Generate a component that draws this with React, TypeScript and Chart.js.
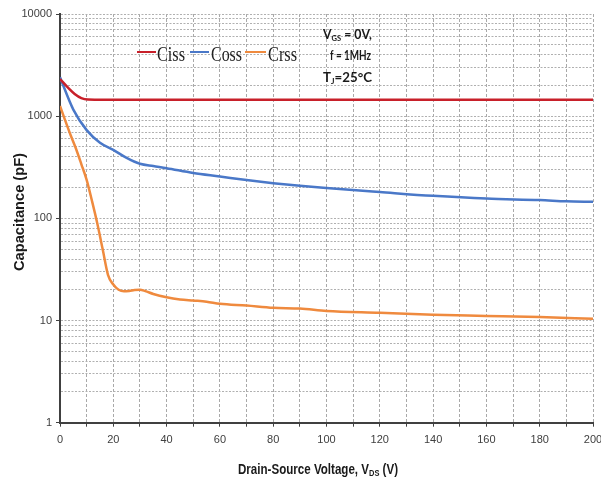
import React, { useEffect, useRef } from 'react';
import { Chart, registerables } from 'chart.js';

Chart.register(...registerables);

// ---- data ----
const cissV = [0, 3, 5.5, 8, 10.5, 13, 20, 40, 100, 200];
const cissC = [2310, 1900, 1650, 1505, 1455, 1450, 1450, 1450, 1450, 1450];

const cossV = [0, 5, 10, 15, 20, 25, 30, 35, 40, 50, 60, 70, 80, 90, 100, 120, 140, 160, 180, 190, 200];
const cossC = [2400, 1160, 730, 550, 468, 390, 342, 325, 310, 278, 257, 237, 221, 208, 198, 181, 166, 156, 151, 147, 145];

const crssV = [0, 2, 4, 6, 8, 10, 12, 14, 16, 18, 20, 22, 24, 26, 28, 30, 32, 35, 40, 45, 50, 55, 60, 70, 80, 90, 100, 120, 140, 160, 180, 200];
const crssC = [1260, 900, 650, 480, 340, 238, 148, 89, 50, 28, 22.5, 20, 19.3, 19.5, 19.9, 20, 19.4, 18.2, 16.9, 16.1, 15.7, 15.3, 14.6, 14.0, 13.3, 13.1, 12.4, 11.9, 11.4, 11.1, 10.8, 10.4];

const seriesNames = ['Ciss', 'Coss', 'Crss'];
const seriesColors = ['#C8202A', '#4A78C8', '#EF8A3E'];

const yDecades = [1, 10, 100, 1000, 10000];
const yMultipliers = [1, 2, 3, 4, 5, 6, 7, 8, 9];
const xMin = 0;
const xMax = 200;
const xStep = 10;
const xLabelStep = 20;

const yTitle = 'Capacitance (pF)';
const xTitleParts = ['Drain-Source Voltage, V', 'DS', ' (V)'];
const noteLines = [
  ['V', 'GS', ' = 0V,'],
  ['f = 1MHz', '', ''],
  ['T', 'J', '=25°C'],
];

const yTickValues: number[] = [];
yDecades.forEach((d) => {
  if (d === 10000) yTickValues.push(d);
  else yMultipliers.forEach((m) => yTickValues.push(d * m));
});

type Part = { t: string; font: string; dy: number };

function drawParts(ctx: CanvasRenderingContext2D, parts: Part[], x: number, y: number, width: number | null, align: 'left' | 'center') {
  let total = 0;
  const widths = parts.map((p) => {
    ctx.font = p.font;
    const w = ctx.measureText(p.t).width;
    total += w;
    return w;
  });
  const sx = width ? width / total : 1;
  ctx.save();
  ctx.translate(align === 'center' ? x - (total * sx) / 2 : x, y);
  ctx.scale(sx, 1);
  let cx = 0;
  parts.forEach((p, i) => {
    ctx.font = p.font;
    ctx.fillText(p.t, cx, p.dy);
    cx += widths[i];
  });
  ctx.restore();
}

const overlay = {
  id: 'overlay',
  afterDraw(chart: any) {
    const ctx: CanvasRenderingContext2D = chart.ctx;
    ctx.save();
    ctx.textBaseline = 'alphabetic';
    ctx.textAlign = 'left';

    // legend
    const legendItems = [
      { x1: 137, x2: 156, tx: 157, tw: 28 },
      { x1: 190, x2: 209, tx: 211, tw: 31 },
      { x1: 245, x2: 266, tx: 268, tw: 29 },
    ];
    legendItems.forEach((it, i) => {
      ctx.strokeStyle = seriesColors[i];
      ctx.lineWidth = 2;
      ctx.beginPath();
      ctx.moveTo(it.x1, 52);
      ctx.lineTo(it.x2, 52);
      ctx.stroke();
      ctx.fillStyle = '#222';
      drawParts(ctx, [{ t: seriesNames[i], font: '21px "Liberation Serif"', dy: 0 }], it.tx, 60.5, it.tw, 'left');
    });

    // note
    ctx.fillStyle = '#1a1a1a';
    const big = 'bold 13px Lato';
    const small = 'bold 8px Lato';
    drawParts(ctx, [
      { t: noteLines[0][0], font: big, dy: 0 },
      { t: noteLines[0][1], font: small, dy: 2 },
      { t: noteLines[0][2], font: big, dy: 0 },
    ], 323, 39, 49, 'left');
    drawParts(ctx, [{ t: noteLines[1][0], font: big, dy: 0 }], 330, 60, 41, 'left');
    drawParts(ctx, [
      { t: noteLines[2][0], font: big, dy: 0 },
      { t: noteLines[2][1], font: small, dy: 2 },
      { t: noteLines[2][2], font: big, dy: 0 },
    ], 323, 82, 49, 'left');

    // axis titles
    ctx.fillStyle = '#1a1a1a';
    const tf = 'bold 14px "Liberation Sans"';
    const tfs = 'bold 9px "Liberation Sans"';
    drawParts(ctx, [
      { t: xTitleParts[0], font: tf, dy: 0 },
      { t: xTitleParts[1], font: tfs, dy: 2 },
      { t: xTitleParts[2], font: tf, dy: 0 },
    ], 318, 474, 160, 'center');

    ctx.save();
    ctx.translate(24, 212);
    ctx.rotate(-Math.PI / 2);
    drawParts(ctx, [{ t: yTitle, font: tf, dy: 0 }], 0, 0, 118, 'center');
    ctx.restore();

    ctx.restore();
  },
};

export default function App() {
  const ref = useRef<HTMLCanvasElement | null>(null);
  useEffect(() => {
    if (!ref.current) return;
    const mk = (xs: number[], ys: number[]) => xs.map((x, i) => ({ x, y: ys[i] }));
    const chart = new Chart(ref.current, {
      type: 'line',
      data: {
        datasets: [
          { label: seriesNames[0], data: mk(cissV, cissC), borderColor: seriesColors[0] },
          { label: seriesNames[1], data: mk(cossV, cossC), borderColor: seriesColors[1] },
          { label: seriesNames[2], data: mk(crssV, crssC), borderColor: seriesColors[2] },
        ].map((d) => ({ ...d, borderWidth: 2.5, pointRadius: 0, cubicInterpolationMode: 'monotone' as const, fill: false })),
      },
      options: {
        animation: false,
        responsive: false,
        layout: { padding: { top: 14, right: 8, left: 0, bottom: 0 } },
        plugins: { legend: { display: false }, tooltip: { enabled: false } },
        scales: {
          x: {
            type: 'linear',
            min: xMin,
            max: xMax,
            afterFit: (s: any) => { s.height = 60.3; s.paddingRight = 0; s.paddingLeft = 0; },
            ticks: {
              stepSize: xStep,
              autoSkip: false,
              maxRotation: 0,
              padding: 7,
              color: '#404040',
              font: { family: '"Liberation Sans"', size: 11 },
              callback: (v: any) => (Number(v) % xLabelStep === 0 ? String(v) : ''),
            },
            grid: {
              color: '#a9a9a9',
              lineWidth: 1,
              drawTicks: true,
              tickLength: 4,
              tickColor: '#404040',
            },
            border: { display: true, color: '#404040', width: 2, dash: [3, 2] },
          },
          y: {
            type: 'logarithmic',
            min: 1,
            max: 10000,
            afterFit: (s: any) => { s.width = 60; s.paddingTop = 0; s.paddingBottom = 0; },
            afterBuildTicks: (s: any) => { s.ticks = yTickValues.map((v) => ({ value: v })); },
            ticks: {
              autoSkip: false,
              padding: 4,
              color: '#404040',
              font: { family: '"Liberation Sans"', size: 11 },
              callback: (v: any) => (yDecades.includes(Number(v)) ? String(v) : ''),
            },
            grid: {
              color: '#b0b0b0',
              lineWidth: 1,
              drawTicks: true,
              tickLength: 4,
              tickColor: (c: any) => (c.tick && yDecades.includes(c.tick.value) ? '#404040' : 'rgba(0,0,0,0)'),
            },
            border: { display: true, color: '#404040', width: 2, dash: [2, 1.5] },
          },
        },
      },
      plugins: [overlay],
    } as any);
    return () => chart.destroy();
  }, []);
  return (
    <div style={{ position: 'absolute', left: 0, top: 0, width: 601, height: 483, background: '#fff' }}>
      <canvas ref={ref} width={601} height={483} style={{ display: 'block' }} />
    </div>
  );
}
